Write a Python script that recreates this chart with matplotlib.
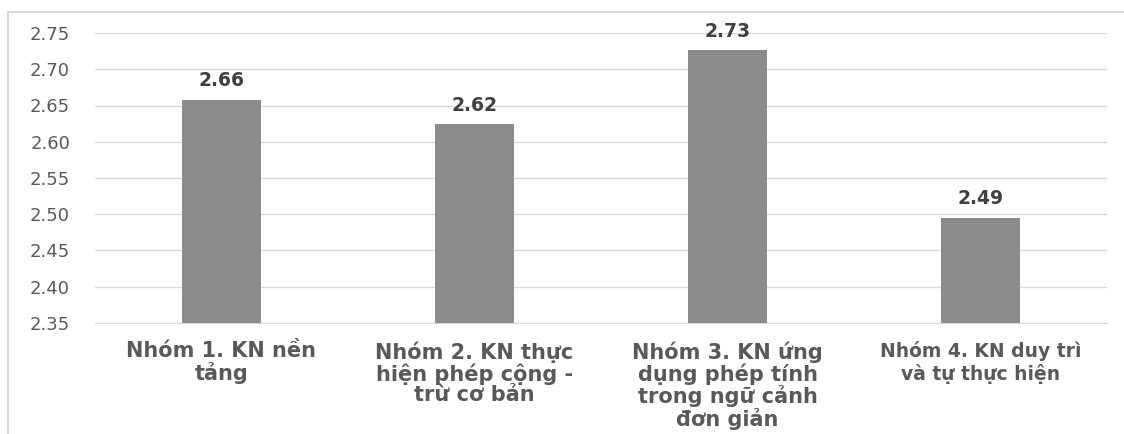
import matplotlib
matplotlib.use("Agg")
import matplotlib.pyplot as plt
from matplotlib.patches import Rectangle

categories = ["Nhóm 1. KN nền\ntảng",
              "Nhóm 2. KN thực\nhiện phép cộng -\ntrừ cơ bản",
              "Nhóm 3. KN ứng\ndụng phép tính\ntrong ngữ cảnh\nđơn giản",
              "Nhóm 4. KN duy trì\nvà tự thực hiện"]
values = [2.658, 2.624, 2.726, 2.495]
labels = ["2.66", "2.62", "2.73", "2.49"]
yticks = [2.35, 2.40, 2.45, 2.50, 2.55, 2.60, 2.65, 2.70, 2.75]

plt.rcParams['font.family'] = ['DejaVu Sans']
fig = plt.figure(figsize=(11.24, 4.34), dpi=100)
ax = fig.add_axes([95/1124, 1 - 323/434, (1107-95)/1124, (323-33)/434])

x = list(range(len(categories)))
ax.bar(x, values, width=0.316, color="#8c8c8c", zorder=3)
ax.set_ylim(2.35, 2.75)
ax.set_xlim(-0.5, 3.5)
ax.set_yticks(yticks)
ax.set_yticklabels([f"{t:.2f}" for t in yticks], color="#595959", fontsize=13)
ax.yaxis.grid(True, color="#d9d9d9", linewidth=1, zorder=0)
ax.set_axisbelow(True)
for s in ["top", "right", "left"]:
    ax.spines[s].set_visible(False)
ax.spines["bottom"].set_color("#d9d9d9")
ax.tick_params(axis="y", length=0, pad=18)
ax.tick_params(axis="x", length=0, pad=13)
ax.set_xticks(x)
ax.set_xticklabels(categories, fontweight="bold", color="#595959", fontsize=15,
                   linespacing=1.04, va="top")
ax.get_xticklabels()[3].set_fontsize(13.5)
ax.get_xticklabels()[3].set_linespacing(1.2)

for xi, v, lab in zip(x, values, labels):
    ax.annotate(lab, (xi, v), xytext=(0, 7), textcoords="offset points",
                ha="center", va="bottom", fontweight="bold", fontsize=13.5,
                color="#404040")

fig.patches.append(Rectangle((8/1124, -0.1), 1.2, 1 - 12/434 + 0.1,
                             transform=fig.transFigure, fill=False,
                             edgecolor="#d9d9d9", linewidth=1.5))

fig.savefig("out.png", dpi=100)
